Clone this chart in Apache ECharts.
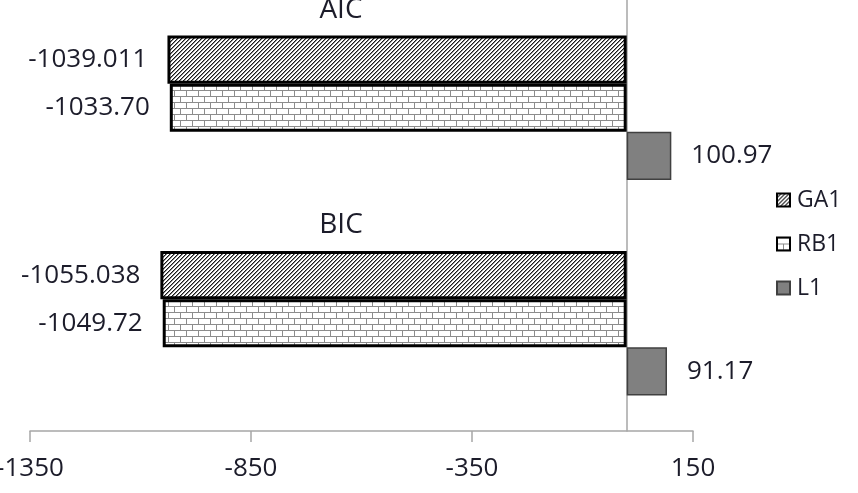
<!DOCTYPE html>
<html>
<head>
<meta charset="utf-8">
<script src="https://cdn.jsdelivr.net/npm/echarts@6/dist/echarts.min.js"></script>
<style>
  html, body { margin: 0; background: #fff; }
  #chart { width: 858px; height: 493px; }
</style>
</head>
<body>
<div id="chart"></div>
<script>
const categories = ['AIC', 'BIC'];
const seriesNames = ['GA1', 'RB1', 'L1'];
const ga1 = [-1039.011, -1055.038];
const rb1 = [-1033.70, -1049.72];
const l1 = [100.97, 91.17];
const xTicks = [-1350, -850, -350, 150];

const font = 'Open Sans';
const textColor = '#1c1c2a';
const axisGray = '#a6a6a6';

// diagonal hatch tile, "/" direction
function hatchTile() {
  const c = document.createElement('canvas');
  c.width = 4;
  c.height = 4;
  const ctx = c.getContext('2d');
  ctx.fillStyle = '#fff';
  ctx.fillRect(0, 0, 4, 4);
  ctx.fillStyle = '#1a1a1a';
  for (let i = 0; i < 4; i++) ctx.fillRect(i, 3 - i, 1, 1);
  ctx.fillStyle = '#8a8a8a';
  for (let i = 0; i < 4; i++) ctx.fillRect(i, (4 - i) % 4, 1, 1);
  return c;
}

// brick tile
function brickTile() {
  const c = document.createElement('canvas');
  c.width = 12;
  c.height = 12;
  const ctx = c.getContext('2d');
  ctx.fillStyle = '#fff';
  ctx.fillRect(0, 0, 12, 12);
  ctx.fillStyle = '#8c8c8c';
  ctx.fillRect(0, 0, 12, 1);
  ctx.fillRect(0, 6, 12, 1);
  ctx.fillRect(0, 0, 1, 6);
  ctx.fillRect(6, 6, 1, 6);
  return c;
}

function barSeries(name, data, digits, itemStyle, position) {
  return {
    name: name,
    type: 'bar',
    data: data,
    barGap: '0%',
    barCategoryGap: '33%',
    itemStyle: itemStyle,
    label: {
      show: true,
      position: position,
      distance: 20,
      fontFamily: font,
      fontSize: 26,
      color: textColor,
      formatter: p => p.value.toFixed(digits),
    },
  };
}

const chart = echarts.init(document.getElementById('chart'), null, { renderer: 'canvas' });
chart.setOption({
  animation: false,
  grid: { left: 30, width: 663, top: 0, height: 431, containLabel: false, outerBoundsMode: 'none' },
  legend: {
    data: seriesNames,
    orient: 'vertical',
    left: 771,
    top: 183,
    itemWidth: 13,
    itemHeight: 13,
    itemGap: 20,
    icon: 'rect',
    selectedMode: false,
    textStyle: { fontFamily: font, fontSize: 23, lineHeight: 24, color: textColor, padding: [0, 0, 0, 2] },
  },
  xAxis: {
    type: 'value',
    min: xTicks[0],
    max: xTicks[xTicks.length - 1],
    interval: xTicks[1] - xTicks[0],
    splitLine: { show: false },
    axisLine: { show: true, lineStyle: { color: axisGray, width: 1.5 } },
    axisTick: { show: true, length: 11, lineStyle: { color: axisGray, width: 1.5 } },
    axisLabel: { margin: 25, fontFamily: font, fontSize: 26, color: textColor, formatter: v => String(v) },
  },
  yAxis: [{
    type: 'category',
    data: categories,
    inverse: true,
    axisLine: { onZero: true, lineStyle: { color: axisGray, width: 1.5 } },
    axisTick: { show: false },
    axisLabel: { show: false },
  }, {
    // helper axis (sits on the right edge): puts each category name at the top of its group
    type: 'category',
    position: 'right',
    data: categories.concat(['']),
    inverse: true,
    boundaryGap: false,
    axisLine: { show: false },
    axisTick: { show: false },
    axisLabel: {
      interval: 0,
      margin: -352,
      align: 'center',
      verticalAlign: 'top',
      fontFamily: font,
      fontSize: 28,
      lineHeight: 20,
      color: textColor,
    },
  }],
  series: [
    barSeries('GA1', ga1, 3, { color: { image: hatchTile(), repeat: 'repeat' }, borderColor: '#000', borderWidth: 3 }, 'left'),
    barSeries('RB1', rb1, 2, { color: { image: brickTile(), repeat: 'repeat' }, borderColor: '#000', borderWidth: 3 }, 'left'),
    barSeries('L1', l1, 2, { color: '#808080', borderColor: '#404040', borderWidth: 1.5 }, 'right'),
  ],
});
</script>
</body>
</html>
